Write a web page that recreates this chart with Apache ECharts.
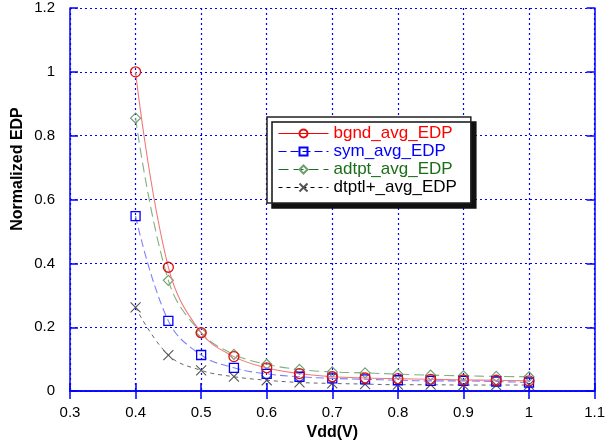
<!DOCTYPE html>
<html>
<head>
<meta charset="utf-8">
<script src="https://cdn.jsdelivr.net/npm/echarts@6/dist/echarts.min.js"></script>
<style>html,body{margin:0;padding:0;background:#fff}#c{width:608px;height:446px}</style>
</head>
<body>
<div id="c"></div>
<script>
const vdd = [0.4, 0.45, 0.5, 0.55, 0.6, 0.65, 0.7, 0.75, 0.8, 0.85, 0.9, 0.95, 1.0];
const bgnd = [1.0, 0.388, 0.183, 0.108, 0.073, 0.055, 0.045, 0.041, 0.039, 0.037, 0.035, 0.034, 0.032];
const sym = [0.548, 0.22, 0.113, 0.073, 0.054, 0.045, 0.04, 0.037, 0.034, 0.032, 0.032, 0.03, 0.027];
const adtpt = [0.855, 0.347, 0.183, 0.115, 0.084, 0.068, 0.06, 0.057, 0.053, 0.05, 0.048, 0.046, 0.045];
const dtptl = [0.262, 0.113, 0.065, 0.045, 0.034, 0.027, 0.024, 0.022, 0.02, 0.02, 0.019, 0.019, 0.019];
const names = ['bgnd_avg_EDP', 'sym_avg_EDP', 'adtpt_avg_EDP', 'dtptl+_avg_EDP'];
const xTicks = [0.3, 1.1, 0.1];
const yTicks = [0, 1.2, 0.2];

const pair = arr => vdd.map((x, i) => [x, arr[i]]);
const FONT = 'Liberation Sans, Arial, sans-serif';
const blue = '#0000ff';
const fmt = v => String(+v.toFixed(1));

const chart = echarts.init(document.getElementById('c'));
const hiddenAxis = {
  axisLine: {show: true, lineStyle: {color: blue, width: 1.5}},
  axisTick: {show: true, inside: true, length: 8, lineStyle: {color: blue, width: 1.5}},
  axisLabel: {show: false},
  splitLine: {show: false}
};
chart.setOption({
  animation: false,
  grid: {left: 70, right: 12, top: 8, bottom: 54},
  xAxis: [{
    type: 'value', min: xTicks[0], max: xTicks[1], interval: xTicks[2], position: 'bottom',
    name: 'Vdd(V)', nameLocation: 'middle', nameGap: 33,
    nameTextStyle: {fontFamily: FONT, fontWeight: 'bold', fontSize: 16, color: '#000'},
    axisLine: {show: true, lineStyle: {color: blue, width: 1.5}},
    axisTick: {show: true, inside: true, length: 8, lineStyle: {color: blue, width: 1.5}},
    axisLabel: {formatter: fmt, margin: 14, fontFamily: FONT, fontSize: 15, color: '#000'},
    splitLine: {show: true, lineStyle: {color: blue, type: [2, 3], width: 1.2}}
  }, Object.assign({type: 'value', min: xTicks[0], max: xTicks[1], interval: xTicks[2], position: 'top'}, hiddenAxis)],
  yAxis: [{
    type: 'value', min: yTicks[0], max: yTicks[1], interval: yTicks[2], position: 'left',
    axisLine: {show: true, lineStyle: {color: blue, width: 1.5}},
    axisTick: {show: true, inside: true, length: 8, lineStyle: {color: blue, width: 1.5}},
    axisLabel: {formatter: fmt, margin: 15, fontFamily: FONT, fontSize: 15, color: '#000'},
    splitLine: {show: true, lineStyle: {color: blue, type: [2, 3], width: 1.2}}
  }, Object.assign({type: 'value', min: yTicks[0], max: yTicks[1], interval: yTicks[2], position: 'right'}, hiddenAxis)],
  graphic: [{
    type: 'text', x: 18, y: 169, rotation: Math.PI / 2,
    style: {text: 'Normalized EDP', font: 'bold 16px ' + FONT, fill: '#000', align: 'center', verticalAlign: 'middle'}
  }],
  legend: {
    orient: 'vertical', left: 267, top: 117,
    padding: [8, 14, 7, 11], itemGap: 1, itemWidth: 50, itemHeight: 10,
    backgroundColor: '#fff', borderColor: '#222', borderWidth: 1.5,
    shadowColor: '#111', shadowOffsetX: 5, shadowOffsetY: 5, shadowBlur: 0,
    textStyle: {fontFamily: FONT, fontSize: 17},
    data: [
      {name: names[0], textStyle: {color: '#ff0000'}, lineStyle: {color: '#ff0000', opacity: 1, width: 1}},
      {name: names[1], textStyle: {color: '#0000ff'}, lineStyle: {color: '#0000ff', opacity: 1, width: 1}},
      {name: names[2], textStyle: {color: '#1a6e1a'}, lineStyle: {color: '#1a6e1a', opacity: 1, width: 1}},
      {name: names[3], textStyle: {color: '#000'}, lineStyle: {color: '#000', opacity: 1, width: 1}}
    ]
  },
  series: [
    {name: names[0], type: 'line', data: pair(bgnd), smooth: 0.4, symbol: 'circle', symbolSize: 10,
     itemStyle: {color: 'rgba(0,0,0,0)', borderColor: '#e01010', borderWidth: 1.3},
     lineStyle: {color: '#f07878', width: 1.1, type: 'solid'}, z: 4},
    {name: names[1], type: 'line', data: pair(sym), smooth: 0.4, symbol: 'rect', symbolSize: 9,
     itemStyle: {color: 'rgba(0,0,0,0)', borderColor: '#0000ff', borderWidth: 1.3},
     lineStyle: {color: '#7f7fff', width: 1.1, type: [8, 4]}, z: 3},
    {name: names[2], type: 'line', data: pair(adtpt), smooth: 0.4, symbol: 'diamond', symbolSize: 10,
     itemStyle: {color: 'rgba(0,0,0,0)', borderColor: '#6fa06f', borderWidth: 1.2},
     lineStyle: {color: '#7fb07f', width: 1.1, type: [10, 5]}, z: 2},
    {name: names[3], type: 'line', data: pair(dtptl), smooth: 0.4,
     symbol: 'path://M0,0L10,10M10,0L0,10', symbolSize: 10,
     itemStyle: {color: 'rgba(0,0,0,0)', borderColor: '#555', borderWidth: 1.1},
     lineStyle: {color: '#666', width: 1, type: [4, 4]}, z: 1}
  ]
});
</script>
</body>
</html>
